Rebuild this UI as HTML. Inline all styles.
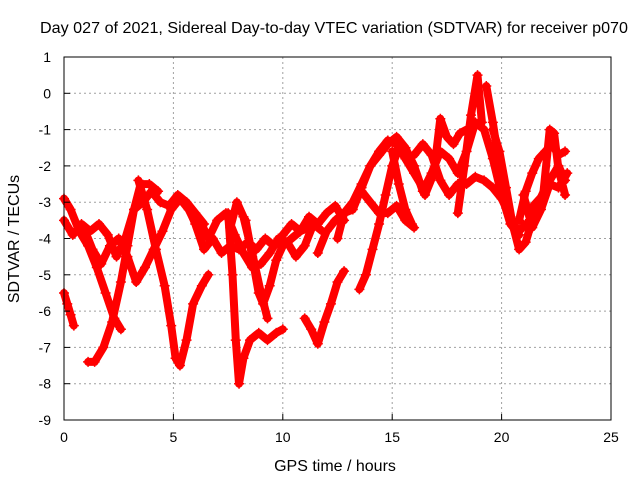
<!DOCTYPE html>
<html><head><meta charset="utf-8"><style>
body{margin:0;background:#fff}
svg{font-family:"Liberation Sans",sans-serif;font-size:14px}
.big{font-size:16px}
</style></head><body>
<svg id="chart" width="640" height="480" viewBox="0 0 640 480" xmlns="http://www.w3.org/2000/svg">
<rect width="640" height="480" fill="#fff"/>
<g id="grid"></g>
<g id="series"></g>
<rect x="64" y="57" width="547" height="363" fill="none" stroke="#000" stroke-width="1"/>
<g id="ticks"></g>
<text class="big" x="334" y="33" text-anchor="middle" textLength="588" lengthAdjust="spacingAndGlyphs">Day 027 of 2021, Sidereal Day-to-day VTEC variation (SDTVAR) for receiver p070</text>
<text class="big" x="335" y="471" text-anchor="middle">GPS time / hours</text>
<text class="big" transform="translate(19,239) rotate(-90)" text-anchor="middle">SDTVAR / TECUs</text>
</svg>
<script>
const xTicks=[0,5,10,15,20,25];
const yTicks=[1,0,-1,-2,-3,-4,-5,-6,-7,-8,-9];
const seriesHours=[
[0,.3,.7,1.1,1.5,1.9,2.3,2.6],
[1.1,1.4,1.8,2.2,2.6,2.9,3.2,3.5,3.9,4.3],
[3.4,3.8,4.2,4.6,4.9,5.1,5.3,5.6,5.9,6.3,6.6],
[0,.4,.8,1.2,1.6,2.0,2.4,2.8,3.2,3.6,4.0,4.4,4.8,5.2,5.6,6.0,6.4],
[0.9,1.3,1.7,2.1,2.5,2.9,3.3,3.7,4.1,4.5,4.9,5.3,5.7,6.1],
[0,.15,.3,.45],
[5.6,6.0,6.4,6.8,7.2,7.6,8.0,8.4,8.8,9.2,9.6,10,10.4,10.8,11.2,11.6,12,12.4,12.8],
[6.2,6.6,7.0,7.4,7.8,8.2,8.6,9.0,9.4,9.8,10.2,10.6,11.0,11.4,11.8],
[7.5,7.7,7.85,8.0,8.2,8.5,8.9,9.3,9.7,10.0],
[8.3,8.6,8.9,9.1,9.4,9.7,10.0,10.4,10.8,11.2],
[7.6,7.9,8.2,8.6,9.0,9.3],
[11.0,11.3,11.6,11.9,12.2,12.5,12.8],
[11.6,12,12.4,12.8,13.2,13.6,14,14.4,14.8,15.2,15.6],
[12.5,12.8,13.2,13.6,14.0,14.4,14.8,15.2,15.6,16.0,16.4],
[13.6,14,14.4,14.8,15.2,15.6,16],
[13.5,13.8,14.1,14.4,14.7,15.0,15.3,15.6],
[15,15.3,15.6,15.9],
[15.6,16,16.4,16.8,17.2,17.6,18.0,18.4,18.8,19.2,19.6,20,20.4,20.8],
[16,16.4,16.8,17.2,17.6,18.0,18.4,18.8,19.2,19.6,20,20.4],
[16.5,16.9,17.2,17.5,17.8,18.1,18.4],
[18.0,18.3,18.6,18.9,19.1],
[19.3,19.6,19.9,20.2,20.5,20.8,21.1],
[19.6,19.9,20.2,20.5,20.8,21.1,21.4,21.7,22,22.3,22.6,22.9],
[20.8,21.1,21.4,21.7,22.0,22.3,22.6,22.9],
[21.3,21.6,21.9,22.2,22.4,22.6,22.9],
[21.0,21.4,21.8,22.2,22.6,23.0]
];
const seriesValues=[
[-2.9,-3.2,-3.8,-4.2,-4.8,-5.5,-6.2,-6.5],
[-7.4,-7.4,-7.0,-6.3,-5.2,-4.2,-3.2,-2.5,-2.5,-2.7],
[-2.4,-3.2,-4.3,-5.3,-6.4,-7.3,-7.5,-6.8,-5.8,-5.3,-5.0],
[-3.5,-3.9,-3.6,-3.8,-3.6,-3.9,-4.5,-4.0,-3.2,-3.0,-2.7,-3.0,-3.1,-2.8,-3.0,-3.3,-3.6],
[-3.7,-4.3,-4.7,-4.2,-4.0,-4.5,-5.2,-4.8,-4.3,-3.8,-3.2,-2.9,-3.2,-3.7],
[-5.5,-5.8,-6.1,-6.4],
[-3.0,-3.6,-4.3,-4.0,-4.4,-4.2,-4.3,-4.1,-4.3,-4.0,-4.2,-3.9,-3.6,-3.8,-3.4,-3.6,-3.3,-3.1,-3.5],
[-3.5,-4.0,-3.5,-3.3,-3.9,-4.4,-4.8,-4.7,-4.4,-4.0,-4.1,-4.5,-4.2,-3.6,-3.8],
[-3.3,-5.0,-6.8,-8.0,-7.3,-6.8,-6.6,-6.8,-6.6,-6.5],
[-3.5,-4.5,-5.5,-5.8,-5.3,-4.6,-4.2,-4.0,-3.8,-3.7],
[-3.7,-3.0,-3.4,-4.4,-5.5,-6.2],
[-6.2,-6.5,-6.9,-6.3,-5.8,-5.2,-4.9],
[-4.4,-3.8,-3.5,-3.3,-3.0,-2.5,-2.0,-1.7,-1.4,-1.2,-1.5],
[-4.0,-3.3,-3.2,-2.6,-2.0,-1.6,-1.3,-1.4,-1.8,-2.2,-2.6],
[-2.7,-3.0,-3.3,-3.3,-3.1,-3.5,-3.7],
[-5.4,-5.0,-4.3,-3.6,-2.8,-2.0,-1.5,-1.6],
[-1.6,-2.5,-3.2,-3.6],
[-1.5,-2.0,-2.7,-2.2,-1.6,-1.8,-2.2,-1.6,-0.8,-1.0,-1.8,-2.8,-3.6,-3.9],
[-1.7,-1.4,-1.7,-2.4,-2.8,-2.5,-2.5,-2.3,-2.4,-2.6,-2.9,-3.4],
[-2.8,-2.2,-0.7,-1.2,-1.4,-1.1,-1.0],
[-3.3,-2.0,-0.6,0.5,-0.8],
[0.2,-0.8,-2.0,-3.0,-3.6,-3.8,-3.6],
[-1.0,-1.6,-2.6,-3.6,-4.3,-4.1,-3.5,-3.0,-2.6,-2.3,-2.0,-2.4],
[-3.5,-2.7,-2.2,-1.8,-1.6,-1.4,-1.7,-1.6],
[-3.2,-3.0,-2.8,-1.0,-1.1,-2.1,-2.8],
[-2.8,-3.7,-3.2,-2.5,-2.6,-2.2]
];
const NS='http://www.w3.org/2000/svg';
const X0=64,X1=611,Y0=57,Y1=420,XMIN=0,XMAX=25,YMAX=1,YMIN=-9;
function xs(h){return X0+(h-XMIN)/(XMAX-XMIN)*(X1-X0);}
function ys(v){return Y0+(YMAX-v)/(YMAX-YMIN)*(Y1-Y0);}
function mk(tag,attrs,parent){const e=document.createElementNS(NS,tag);for(const k in attrs)e.setAttribute(k,attrs[k]);parent.appendChild(e);return e;}
const grid=document.getElementById('grid'),ticks=document.getElementById('ticks'),ser=document.getElementById('series');
xTicks.forEach(t=>{
  const x=xs(t);
  if(t>XMIN&&t<XMAX){const g=mk('line',{x1:x,x2:x,y1:Y0,y2:Y1,stroke:'#a0a0a0','stroke-dasharray':'2,3'},grid);
  
  }
  const l=mk('line',{x1:x,x2:x,y1:Y1,y2:Y1-6,stroke:'#000'},ticks);
  
  
  const tx=mk('text',{x:x,y:Y1+22,'text-anchor':'middle'},ticks);tx.textContent=t;
  
  
});
yTicks.forEach(t=>{
  const y=ys(t);
  if(t<YMAX&&t>YMIN){const g=mk('line',{x1:X0,x2:X1,y1:y,y2:y,stroke:'#a0a0a0','stroke-dasharray':'2,3'},grid);
  
  }
  const l=mk('line',{x1:X0,x2:X0+6,y1:y,y2:y,stroke:'#000'},ticks);
  
  
  const tx=mk('text',{x:X0-13,y:y+5,'text-anchor':'end'},ticks);tx.textContent=t;
  
  
});
seriesHours.forEach((hs,i)=>{
  const vs=seriesValues[i];
  const pts=hs.map((h,j)=>xs(h).toFixed(1)+','+ys(vs[j]).toFixed(1)).join(' ');
  const p=mk('polyline',{points:pts,fill:'none',stroke:'#ff0000','stroke-width':8,'stroke-linejoin':'round','stroke-linecap':'round'},ser);
  
  
  hs.forEach((h,j)=>{
    const x=xs(h),y=ys(vs[j]);
    const m=mk('path',{d:`M${x-5},${y}H${x+5}M${x},${y-5}V${y+5}`,stroke:'#ff0000','stroke-width':1.5},ser);
    
    
  });
});
</script>
</body></html>
